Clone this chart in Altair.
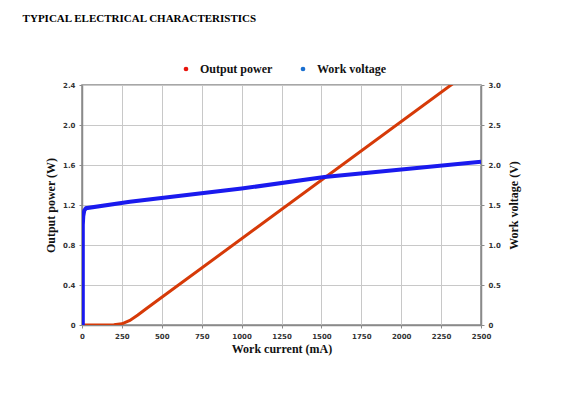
import altair as alt
import pandas as pd

# Output power (W) vs work current (mA)
power_current = [0, 150, 200, 250, 300, 350, 400, 500, 2500]
power_watts = [0, 0, 0.003, 0.012, 0.045, 0.1, 0.16, 0.277, 2.62]

# Work voltage (V) vs work current (mA)
volt_current = [5, 5, 8, 14, 25, 300, 1000, 1519, 2500]
volt_values = [0, 1.25, 1.36, 1.43, 1.46, 1.54, 1.705, 1.85, 2.04]

series_names = ["Output power", "Work voltage"]
legend_colors = ["#e8140c", "#1a6fd0"]

x_ticks = [0, 250, 500, 750, 1000, 1250, 1500, 1750, 2000, 2250, 2500]
power_ticks = [0, 0.4, 0.8, 1.2, 1.6, 2.0, 2.4]
volt_ticks = [0, 0.5, 1.0, 1.5, 2.0, 2.5, 3.0]

power_df = pd.DataFrame({"current": power_current, "value": power_watts,
                         "series": series_names[0]})
volt_df = pd.DataFrame({"current": volt_current, "value": volt_values,
                        "series": series_names[1]})

label_font = "DejaVu Sans"
title_font = "Liberation Serif"
lab_expr = "datum.value == 0 ? '0' : format(datum.value, '.1f')"

x_enc = alt.X("current:Q",
              scale=alt.Scale(domain=[0, 2500], nice=False),
              axis=alt.Axis(values=x_ticks, title="Work current (mA)",
                            format="d", grid=True))
y_power = alt.Y("value:Q", scale=alt.Scale(domain=[0, 2.4], nice=False),
                axis=alt.Axis(values=power_ticks, title="Output power (W)",
                              labelExpr=lab_expr, orient="left", grid=True,
                              titlePadding=5))

power_line = alt.Chart(power_df).mark_line(
    color="#d63a08", strokeWidth=3, clip=True
).encode(
    x=x_enc,
    y=y_power,
    order="current:Q",
)

legend_layer = alt.Chart(power_df).mark_circle(size=22, opacity=1).encode(
    x=x_enc,
    y=y_power,
    color=alt.Color("series:N",
                    scale=alt.Scale(domain=series_names, range=legend_colors),
                    legend=alt.Legend(title=None, orient="none",
                                      direction="horizontal",
                                      legendX=98, legendY=-22,
                                      labelFont=title_font, labelFontSize=12,
                                      labelFontWeight="bold", labelColor="#111",
                                      symbolType="circle", symbolSize=22,
                                      columnPadding=24, labelOffset=8)),
).transform_filter("false")

volt_line = alt.Chart(volt_df).mark_line(
    color="#1a1aee", strokeWidth=4, clip=True
).encode(
    x=x_enc,
    y=alt.Y("value:Q", scale=alt.Scale(domain=[0, 3.0], nice=False),
            axis=alt.Axis(values=volt_ticks, title="Work voltage (V)",
                          labelExpr=lab_expr, orient="right", grid=False,
                          titleAngle=270, titlePadding=20)),
    order="current:Q",
)

chart = alt.layer(
    alt.layer(power_line, legend_layer), volt_line
).resolve_scale(y="independent").properties(
    width=399, height=240,
    title=alt.TitleParams("TYPICAL ELECTRICAL CHARACTERISTICS", anchor="start",
                          frame="bounds", font=title_font, fontSize=11,
                          fontWeight="bold", color="#000", dx=-22, offset=39),
    padding={"left": 14, "top": 5, "right": 5, "bottom": 5},
).configure_view(
    stroke="#8a8a8a", strokeWidth=1.5
).configure_axis(
    labelFont=label_font, labelFontSize=7, labelFontWeight="bold",
    labelColor="#333", titleFont=title_font, titleFontSize=12,
    titleFontWeight="bold", titleColor="#111", gridColor="#c8c8c8",
    gridWidth=1, domainColor="#8a8a8a", domainWidth=1.5, tickColor="#8a8a8a",
    tickSize=3, labelPadding=4, labelOverlap=False, labelFlush=False,
)

chart.save("out.html", embed_options={"renderer": "svg", "actions": False})
